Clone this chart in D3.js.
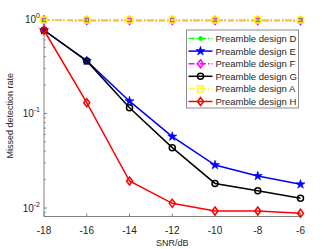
<!DOCTYPE html>
<html>
<head>
<meta charset="utf-8">
<script src="https://cdn.jsdelivr.net/npm/d3@7"></script>
<style>
  body { margin: 0; background: #fff; }
  text { font-family: "Liberation Sans", Arial, sans-serif; }
</style>
</head>
<body>
<svg id="chart" width="332" height="249"></svg>
<script>
// SNR points along the x axis
const snr = [-18, -16, -14, -12, -10, -8, -6];

// Missed detection rate for each preamble design
const designD = [0.975, 0.975, 0.975, 0.975, 0.975, 0.975, 0.975];
const designE = [0.76, 0.36, 0.135, 0.057, 0.0285, 0.0218, 0.0178];
const designF = [0.97, 0.965, 0.965, 0.965, 0.965, 0.965, 0.96];
const designG = [0.76, 0.36, 0.115, 0.0435, 0.0182, 0.0152, 0.0127];
const designA = [0.975, 0.975, 0.975, 0.975, 0.975, 0.975, 0.975];
const designH = [0.76, 0.13, 0.0193, 0.0112, 0.0093, 0.0093, 0.0088];

const xTicks = [-18, -16, -14, -12, -10, -8, -6];
const yTicks = [-2, -1, 0];

// Series in legend order
const series = [
  {name: 'Preamble design D', values: designD, color: '#00ff00', dash: '6,2,1.5,2', marker: 'asterisk'},
  {name: 'Preamble design E', values: designE, color: '#0000ff', dash: null, marker: 'star'},
  {name: 'Preamble design F', values: designF, color: '#ff00ff', dash: '6,2,1.5,2', marker: 'diamond'},
  {name: 'Preamble design G', values: designG, color: '#000000', dash: null, marker: 'circle'},
  {name: 'Preamble design A', values: designA, color: '#ffff00', dash: '6,2,1.5,2', marker: 'square'},
  {name: 'Preamble design H', values: designH, color: '#ff0000', dash: null, marker: 'diamond'}
];

const svg = d3.select('#chart');
// Plot area edges
const plotL = 44, plotR = 300.5, plotT = 15, plotB = 216.5;

const x = d3.scaleLinear().domain([-18, -6]).range([plotL, plotR]);
const y = d3.scaleLog().domain([0.00813, 1.102]).range([plotB, plotT]);

const axisColor = '#262626';
const gridGray = '#808080';

// Axes lines
svg.append('line')
  .attr('x1', plotL).attr('x2', plotL).attr('y1', plotT).attr('y2', plotB)
  .attr('stroke', gridGray).attr('stroke-width', 1);
svg.append('line')
  .attr('x1', plotL).attr('x2', plotR).attr('y1', plotB).attr('y2', plotB)
  .attr('stroke', gridGray).attr('stroke-width', 1);

// X ticks (pointing inward)
for (let t of xTicks) {
  svg.append('line')
    .attr('x1', x(t)).attr('x2', x(t)).attr('y1', plotB).attr('y2', plotB - 3)
    .attr('stroke', gridGray);
  svg.append('text')
    .attr('x', x(t)).attr('y', plotB + 17)
    .attr('text-anchor', 'middle')
    .attr('font-size', 10)
    .attr('fill', axisColor)
    .text(t);
}

// Y major ticks with 10^n labels
for (let e of yTicks) {
  const yy = y(Math.pow(10, e));
  svg.append('line')
    .attr('x1', plotL).attr('x2', plotL + 3).attr('y1', yy).attr('y2', yy)
    .attr('stroke', gridGray);
  const label = svg.append('text')
    .attr('x', plotL - 4).attr('y', yy + 4)
    .attr('text-anchor', 'end')
    .attr('font-size', 10)
    .attr('fill', axisColor);
  label.append('tspan').text('10');
  label.append('tspan').attr('dy', -5).attr('font-size', 7).text(e);
}

// Y minor ticks
for (let e of [-3, -2, -1]) {
  for (let m = 2; m <= 9; m++) {
    const v = m * Math.pow(10, e);
    if (v < y.domain()[0] || v > y.domain()[1]) continue;
    svg.append('line')
      .attr('x1', plotL).attr('x2', plotL + 1.8).attr('y1', y(v)).attr('y2', y(v))
      .attr('stroke', gridGray);
  }
}

// Axis titles
svg.append('text')
  .attr('x', (plotL + plotR) / 2).attr('y', 246)
  .attr('text-anchor', 'middle')
  .attr('font-size', 9)
  .attr('fill', axisColor)
  .text('SNR/dB');
svg.append('text')
  .attr('transform', 'translate(13,' + ((plotT + plotB) / 2) + ') rotate(-90)')
  .attr('text-anchor', 'middle')
  .attr('font-size', 9)
  .attr('fill', axisColor)
  .text('Missed detection rate');

// Marker drawing helper
function drawMarker(g, kind, cx, cy, color) {
  if (kind === 'circle') {
    g.append('circle').attr('cx', cx).attr('cy', cy).attr('r', 3)
      .attr('fill', 'none').attr('stroke', color).attr('stroke-width', 1.5);
  } else if (kind === 'square') {
    g.append('rect').attr('x', cx - 3).attr('y', cy - 3).attr('width', 6).attr('height', 6)
      .attr('fill', 'none').attr('stroke', color).attr('stroke-width', 1.5);
  } else if (kind === 'diamond') {
    g.append('path')
      .attr('d', `M${cx},${cy - 4}L${cx + 3},${cy}L${cx},${cy + 4}L${cx - 3},${cy}Z`)
      .attr('fill', 'none').attr('stroke', color).attr('stroke-width', 1.5);
  } else if (kind === 'star') {
    const sym = d3.symbol().type(d3.symbolStar).size(26);
    g.append('path').attr('d', sym()).attr('transform', `translate(${cx},${cy})`)
      .attr('fill', color).attr('stroke', color).attr('stroke-width', 0.6);
  } else if (kind === 'asterisk') {
    const r = 2.5;
    g.append('path')
      .attr('d', `M${cx - r},${cy}L${cx + r},${cy}M${cx},${cy - r}L${cx},${cy + r}` +
        `M${cx - r * 0.7},${cy - r * 0.7}L${cx + r * 0.7},${cy + r * 0.7}` +
        `M${cx - r * 0.7},${cy + r * 0.7}L${cx + r * 0.7},${cy - r * 0.7}`)
      .attr('stroke', color).attr('stroke-width', 1.2);
  }
}

const line = d3.line()
  .x((d) => x(d[0]))
  .y((d) => y(d[1]));

// Draw every series
for (let s of series) {
  const pts = snr.map((v, i) => [v, s.values[i]]);
  const g = svg.append('g');
  g.append('path')
    .datum(pts)
    .attr('d', line)
    .attr('fill', 'none')
    .attr('stroke', s.color)
    .attr('stroke-width', 1.5)
    .attr('stroke-dasharray', s.dash);
  for (let p of pts) {
    drawMarker(g, s.marker, x(p[0]), y(p[1]), s.color);
  }
}

// Legend
const lx = 186.5, ly = 30, lw = 112, lh = 78, rowH = 12.6;
const legend = svg.append('g');
legend.append('rect')
  .attr('x', lx).attr('y', ly).attr('width', lw).attr('height', lh)
  .attr('fill', '#fff').attr('stroke', '#8c8c8c').attr('stroke-width', 1);
series.forEach((s, i) => {
  const ry = ly + 8.5 + i * rowH;
  legend.append('line')
    .attr('x1', lx + 2).attr('x2', lx + 26).attr('y1', ry).attr('y2', ry)
    .attr('stroke', s.color).attr('stroke-width', 1.5)
    .attr('stroke-dasharray', s.dash);
  drawMarker(legend, s.marker, lx + 14, ry, s.color);
  legend.append('text')
    .attr('x', lx + 29).attr('y', ry + 3.5)
    .attr('font-size', 9.5)
    .attr('fill', axisColor)
    .text(s.name);
});
</script>
</body>
</html>
